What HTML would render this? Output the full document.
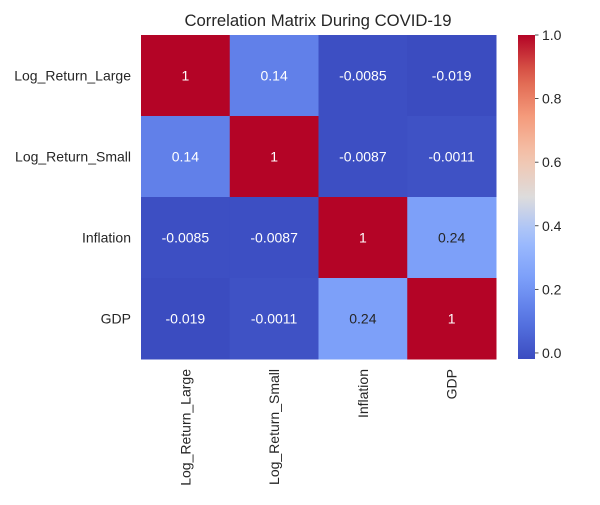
<!DOCTYPE html>
<html><head><meta charset="utf-8"><style>
body{margin:0;background:#fff;}
svg{font-family:"Liberation Sans",Arial,sans-serif;}
</style></head><body>
<svg id="chart" width="600" height="500" xmlns="http://www.w3.org/2000/svg">
<rect width="600" height="500" fill="#fff"/>
<text x="318" y="26" text-anchor="middle" font-size="16.7" fill="#262626">Correlation Matrix During COVID-19</text>
<defs><linearGradient id="cbgrad" x1="0" y1="1" x2="0" y2="0"></linearGradient></defs>
<g id="cells"></g>
<g id="ylabels"></g>
<g id="xlabels"></g>
<g id="colorbar"></g>
</svg>
<script>
const labels = ["Log_Return_Large","Log_Return_Small","Inflation","GDP"];
const row0 = [1, 0.14, -0.0085, -0.019];
const row1 = [0.14, 1, -0.0087, -0.0011];
const row2 = [-0.0085, -0.0087, 1, 0.24];
const row3 = [-0.019, -0.0011, 0.24, 1];
const rowText0 = ["1","0.14","-0.0085","-0.019"];
const rowText1 = ["0.14","1","-0.0087","-0.0011"];
const rowText2 = ["-0.0085","-0.0087","1","0.24"];
const rowText3 = ["-0.019","-0.0011","0.24","1"];
const cbTicks = [0.0,0.2,0.4,0.6,0.8,1.0];
const cbTickText = ["0.0","0.2","0.4","0.6","0.8","1.0"];

const rows=[row0,row1,row2,row3], texts=[rowText0,rowText1,rowText2,rowText3];
const NS="http://www.w3.org/2000/svg";
const x0=141,x1=496,y0=35,y1=359;
const vmin=Math.min(...rows.flat()), vmax=Math.max(...rows.flat());
const cw=(x1-x0)/labels.length, ch=(y1-y0)/labels.length;
const stops=[[0,[59,76,192]],[0.125,[88,118,228]],[0.25,[124,159,249]],[0.375,[160,190,254]],[0.5,[221,220,220]],[0.625,[244,196,173]],[0.75,[244,154,123]],[0.875,[221,96,76]],[1,[180,4,38]]];
function cmap(t){t=Math.max(0,Math.min(1,t));for(let i=1;i<stops.length;i++){if(t<=stops[i][0]){const a=stops[i-1],b=stops[i];const f=(t-a[0])/(b[0]-a[0]);return a[1].map((c,k)=>Math.round(c+(b[1][k]-c)*f));}}return stops[stops.length-1][1];}
function norm(v){return (v-vmin)/(vmax-vmin);}
function mk(tag,attrs,parent){const e=document.createElementNS(NS,tag);for(const k in attrs)e.setAttribute(k,attrs[k]);parent.appendChild(e);return e;}
const cells=document.getElementById('cells');
rows.forEach((r,i)=>r.forEach((v,j)=>{
  const c=cmap(norm(v));
  const rect=mk('rect',{x:x0+j*cw,y:y0+i*ch,width:cw+0.5,height:ch+0.5,fill:`rgb(${c})`},cells);
  
  
  const lum=(0.2126*c[0]+0.7152*c[1]+0.0722*c[2])/255;
  const t=mk('text',{x:x0+(j+0.5)*cw,y:y0+(i+0.5)*ch+5,'text-anchor':'middle','font-size':'14',fill:lum>0.6?'#262626':'#fff'},cells);
  t.textContent=texts[i][j];
  
  
}));
const yl=document.getElementById('ylabels'), xl=document.getElementById('xlabels');
labels.forEach((l,i)=>{
  const yc=y0+(i+0.5)*ch;
  const t=mk('text',{x:131,y:yc+5,'text-anchor':'end','font-size':'14',fill:'#262626'},yl);
  t.textContent=l;
  
  
  const xc=x0+(i+0.5)*cw;
  const u=mk('text',{x:0,y:0,'text-anchor':'end','font-size':'14',fill:'#262626',transform:`translate(${xc+5},${y1+10}) rotate(-90)`},xl);
  u.textContent=l;
  
  
});
const grad=document.getElementById('cbgrad');
for(let k=0;k<=20;k++){const c=cmap(k/20);mk('stop',{offset:k/20,'stop-color':`rgb(${c})`},grad);}
const cb=document.getElementById('colorbar');
const cbx=518,cbw=17;
const cbr=mk('rect',{x:cbx,y:y0,width:cbw,height:y1-y0,fill:'url(#cbgrad)'},cb);


function cby(v){return y1-(v-vmin)/(vmax-vmin)*(y1-y0);}
cbTicks.forEach((v,i)=>{
  const y=cby(v);
  const ln=mk('line',{x1:cbx+cbw,x2:cbx+cbw+3.5,y1:y,y2:y,stroke:'#262626','stroke-width':'0.8'},cb);
  
  
  const t=mk('text',{x:cbx+cbw+7,y:y+5,'font-size':'14',fill:'#262626'},cb);
  t.textContent=cbTickText[i];
  
  
});
</script>
</body></html>
